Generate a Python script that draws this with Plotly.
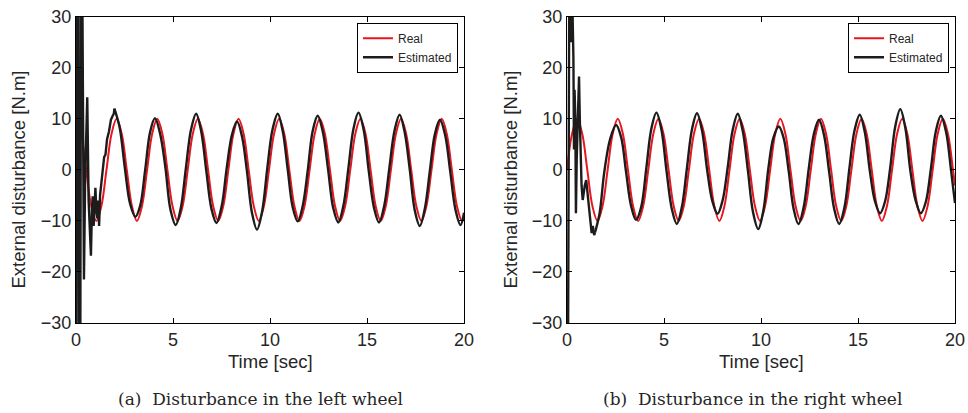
import plotly.graph_objects as go

# ---------------- data ----------------
real_t = [0, 0.262, 0.524, 0.785, 1.047, 1.309, 1.571, 1.833, 2.094, 2.356, 2.618, 2.880,
          3.142, 3.403, 3.665, 3.927, 4.189, 4.451, 4.712, 4.974, 5.236, 5.498, 5.760, 6.021,
          6.283, 6.545, 6.807, 7.069, 7.330, 7.592, 7.854, 8.116, 8.378, 8.639, 8.901, 9.163,
          9.425, 9.687, 9.948, 10.210, 10.472, 10.734, 10.996, 11.257, 11.519, 11.781, 12.043,
          12.305, 12.566, 12.828, 13.090, 13.352, 13.614, 13.875, 14.137, 14.399, 14.661,
          14.923, 15.184, 15.446, 15.708, 15.970, 16.232, 16.493, 16.755, 17.017, 17.279,
          17.541, 17.802, 18.064, 18.326, 18.588, 18.850, 19.111, 19.373, 19.635, 19.897, 20.0]

real_left = [10, 7.07, 0, -7.07, -10, -7.07, 0, 7.07,
             10, 7.07, 0, -7.07, -10, -7.07, 0, 7.07,
             10, 7.07, 0, -7.07, -10, -7.07, 0, 7.07,
             10, 7.07, 0, -7.07, -10, -7.07, 0, 7.07,
             10, 7.07, 0, -7.07, -10, -7.07, 0, 7.07,
             10, 7.07, 0, -7.07, -10, -7.07, 0, 7.07,
             10, 7.07, 0, -7.07, -10, -7.07, 0, 7.07,
             10, 7.07, 0, -7.07, -10, -7.07, 0, 7.07,
             10, 7.07, 0, -7.07, -10, -7.07, 0, 7.07,
             10, 7.07, 0, -7.07, -10, -9.52]

real_right = [0, 7.07, 10, 7.07, 0, -7.07, -10, -7.07,
              0, 7.07, 10, 7.07, 0, -7.07, -10, -7.07,
              0, 7.07, 10, 7.07, 0, -7.07, -10, -7.07,
              0, 7.07, 10, 7.07, 0, -7.07, -10, -7.07,
              0, 7.07, 10, 7.07, 0, -7.07, -10, -7.07,
              0, 7.07, 10, 7.07, 0, -7.07, -10, -7.07,
              0, 7.07, 10, 7.07, 0, -7.07, -10, -7.07,
              0, 7.07, 10, 7.07, 0, -7.07, -10, -7.07,
              0, 7.07, 10, 7.07, 0, -7.07, -10, -7.07,
              0, 7.07, 10, 7.07, 0, -3.05]

# Estimated, left wheel: start-up transient
estL_tr_t = [0.00, 0.04, 0.12, 0.14, 0.22, 0.26, 0.32, 0.36, 0.41, 0.47, 0.52, 0.58, 0.65,
             0.72, 0.77, 0.82, 0.86, 0.91, 0.96, 1.00, 1.05, 1.10, 1.15, 1.19, 1.24, 1.30,
             1.38, 1.45, 1.52, 1.60, 1.70, 1.80, 1.88, 1.95, 1.98]
estL_tr_v = [-40, 40, 40, -40, -40, 40, 40, -4, -21.5, -2, 8, 14.2, -6,
             -13, -16.8, -8, -5.2, -11, -6, -3.5, -8, -9.5, -6, -11, -5, -3,
             0, 2.5, 3.0, 6.0, 7.5, 9.8, 10.5, 11.0, 12.0]
# Estimated, left wheel: steady oscillation
estL_t = [1.98, 2.25, 2.52, 2.79, 3.06, 3.31, 3.56, 3.82, 4.07, 4.34, 4.61, 4.87, 5.14,
          5.40, 5.66, 5.93, 6.19, 6.45, 6.72, 6.98, 7.24, 7.51, 7.77, 8.04, 8.30, 8.56,
          8.81, 9.07, 9.33, 9.60, 9.86, 10.13, 10.40, 10.66, 10.91, 11.17, 11.43, 11.69,
          11.94, 12.20, 12.46, 12.73, 12.99, 13.26, 13.52, 13.78, 14.04, 14.30, 14.56,
          14.83, 15.09, 15.36, 15.62, 15.89, 16.15, 16.42, 16.68, 16.94, 17.20, 17.46,
          17.72, 17.98, 18.24, 18.50, 18.76, 19.03, 19.29, 19.56, 19.82, 20.00]
estL_v = [12.0, 8.3, 0.3, -6.7, -9.2, -7.0, -0.2, 7.4, 10.1, 7.0, 0.4, -7.8, -10.8,
          -7.5, 0.2, 7.9, 11.0, 7.6, -0.3, -7.6, -10.4, -7.1, 0.4, 6.9, 9.5, 6.5,
          -0.2, -8.4, -11.7, -8.0, 0.3, 7.9, 11.0, 7.5, 0.2, -7.3, -10.1, -7.0,
          -0.3, 7.6, 10.6, 7.3, 0.2, -7.5, -10.3, -7.1, 0.3, 8.0, 11.2,
          7.8, -0.2, -7.4, -10.3, -7.0, 0.3, 7.7, 10.8, 7.4, 0.2, -7.9,
          -11.0, -7.6, -0.2, 7.0, 9.8, 6.8, -0.3, -7.8, -10.8, -8.4]

# Estimated, right wheel: start-up transient
estR_tr_t = [0.00, 0.05, 0.12, 0.20, 0.24, 0.30, 0.33, 0.36, 0.39, 0.43, 0.46, 0.50, 0.54,
             0.58, 0.62, 0.66, 0.70, 0.75, 0.81, 0.86, 0.92, 0.99, 1.04, 1.08, 1.15, 1.22,
             1.27, 1.33, 1.40, 1.45]
estR_tr_v = [-40, -40, 40, 25, 40, 30, 22, 4, 15.7, 10, -8.5, 2, 8.5,
             13, 18.3, 10, 2, -3, -5.9, -4, -3, -2, -4, -6, -9, -11,
             -12.4, -11, -12.8, -12.2]
# Estimated, right wheel: steady oscillation
estR_t = [1.45, 1.68, 1.92, 2.22, 2.53, 2.79, 3.04, 3.30, 3.56, 3.83, 4.09, 4.35, 4.61,
          4.87, 5.13, 5.40, 5.66, 5.92, 6.18, 6.44, 6.70, 6.96, 7.23, 7.49, 7.76, 8.02,
          8.28, 8.54, 8.80, 9.06, 9.33, 9.59, 9.86, 10.12, 10.38, 10.64, 10.92, 11.17,
          11.43, 11.68, 11.93, 12.20, 12.46, 12.73, 12.99, 13.25, 13.51, 13.77, 14.03,
          14.30, 14.56, 14.82, 15.09, 15.35, 15.61, 15.87, 16.14, 16.40, 16.66, 16.92,
          17.18, 17.44, 17.70, 17.97, 18.24, 18.50, 18.76, 19.01, 19.27, 19.54, 19.80, 20.00]
estR_v = [-12.2, -8.5, -0.5, 6.0, 8.8, 6.4, -0.3, -7.0, -9.8, -7.2, 0.4, 8.1, 11.2,
          7.8, -0.2, -7.6, -10.6, -7.3, 0.3, 7.9, 11.1, 7.7, -0.2, -6.1, -8.6, -6.0,
          0.4, 7.8, 11.0, 7.6, -0.3, -8.3, -11.6, -8.0, 0.3, 6.3, 8.5, 6.2,
          -0.3, -7.6, -10.6, -7.3, 0.2, 7.1, 9.8, 6.8, -0.3, -7.6, -10.6,
          -7.4, 0.4, 7.7, 10.8, 7.4, -0.2, -6.1, -8.5, -6.1, 0.4, 8.5,
          11.9, 8.2, -0.2, -6.0, -8.5, -6.2, 0.3, 7.5, 10.6, 7.4, -0.2, -6.5]

x_ticks = [0, 5, 10, 15, 20]
y_ticks = [-30, -20, -10, 0, 10, 20, 30]
x_title = "Time [sec]"
y_title = "External disturbance [N.m]"
captions = ["(a)  Disturbance in the left wheel", "(b)  Disturbance in the right wheel"]

# ---------------- figure ----------------
RED = "#e8161e"
BLACK = "#1c1c1c"
TXT = "#262626"
FONT = "Liberation Sans, Arial, sans-serif"

fig = go.Figure()

def add_panel(xa, ya, legend, t_real, v_real, t_tr, v_tr, t_st, v_st):
    fig.add_trace(go.Scatter(x=t_real, y=v_real, mode="lines", name="Real",
                             line=dict(color=RED, width=2, shape="spline"),
                             xaxis=xa, yaxis=ya, legend=legend))
    fig.add_trace(go.Scatter(x=t_tr, y=v_tr, mode="lines", name="Estimated",
                             line=dict(color=BLACK, width=2.4),
                             xaxis=xa, yaxis=ya, legend=legend, showlegend=False,
                             legendgroup=legend + "est"))
    fig.add_trace(go.Scatter(x=t_st, y=v_st, mode="lines", name="Estimated",
                             line=dict(color=BLACK, width=2.4, shape="spline"),
                             xaxis=xa, yaxis=ya, legend=legend,
                             legendgroup=legend + "est"))

add_panel("x", "y", "legend", real_t, real_left, estL_tr_t, estL_tr_v, estL_t, estL_v)
add_panel("x2", "y2", "legend2", real_t, real_right, estR_tr_t, estR_tr_v, estR_t, estR_v)

W, H = 968, 413
dom_left = [76 / W, 464 / W]
dom_right = [567 / W, 955 / W]
dom_y = [1 - 323 / H, 1 - 16.7 / H]

axis_common = dict(showline=True, linecolor="black", linewidth=1, mirror="ticks",
                   ticks="inside", ticklen=5, tickcolor="black", showgrid=False,
                   zeroline=False, tickfont=dict(family=FONT, size=18, color=TXT))

fig.update_layout(
    width=W, height=H, margin=dict(l=0, r=0, t=0, b=0, autoexpand=False),
    paper_bgcolor="white", plot_bgcolor="white",
    xaxis=dict(domain=dom_left, range=[0, 20], tickvals=x_ticks, anchor="y", **axis_common),
    yaxis=dict(domain=dom_y, range=[-30, 30], tickvals=y_ticks, anchor="x", **axis_common),
    xaxis2=dict(domain=dom_right, range=[0, 20], tickvals=x_ticks, anchor="y2", **axis_common),
    yaxis2=dict(domain=dom_y, range=[-30, 30], tickvals=y_ticks, anchor="x2", **axis_common),
    legend=dict(x=458 / W, y=1 - 22.7 / H, xanchor="right", yanchor="top",
                bordercolor="black", borderwidth=1, bgcolor="white",
                font=dict(family=FONT, size=12, color=TXT), tracegroupgap=0),
    legend2=dict(x=949 / W, y=1 - 22.7 / H, xanchor="right", yanchor="top",
                 bordercolor="black", borderwidth=1, bgcolor="white",
                 font=dict(family=FONT, size=12, color=TXT), tracegroupgap=0),
    showlegend=True,
)

ann_font = dict(family=FONT, size=18.5, color=TXT)
cap_font = dict(family="DejaVu Serif, Liberation Serif, serif", size=17, color=TXT)
for xc, yl in [(270, 17.5), (761, 509.5)]:
    fig.add_annotation(text=x_title, x=xc / W, y=1 - 361 / H, xref="paper", yref="paper",
                       showarrow=False, font=ann_font, xanchor="center", yanchor="middle")
    fig.add_annotation(text=y_title, x=yl / W, y=1 - 180 / H, xref="paper", yref="paper",
                       showarrow=False, font=ann_font, textangle=-90,
                       xanchor="center", yanchor="middle")
fig.add_annotation(text=captions[0], x=260 / W, y=1 - 399 / H, xref="paper", yref="paper",
                   showarrow=False, font=cap_font, xanchor="center", yanchor="middle")
fig.add_annotation(text=captions[1], x=752 / W, y=1 - 399 / H, xref="paper", yref="paper",
                   showarrow=False, font=cap_font, xanchor="center", yanchor="middle")

fig.write_html("out.html", config={"displayModeBar": False},
               post_script="document.body.style.margin='0';document.body.style.overflow='hidden';")
